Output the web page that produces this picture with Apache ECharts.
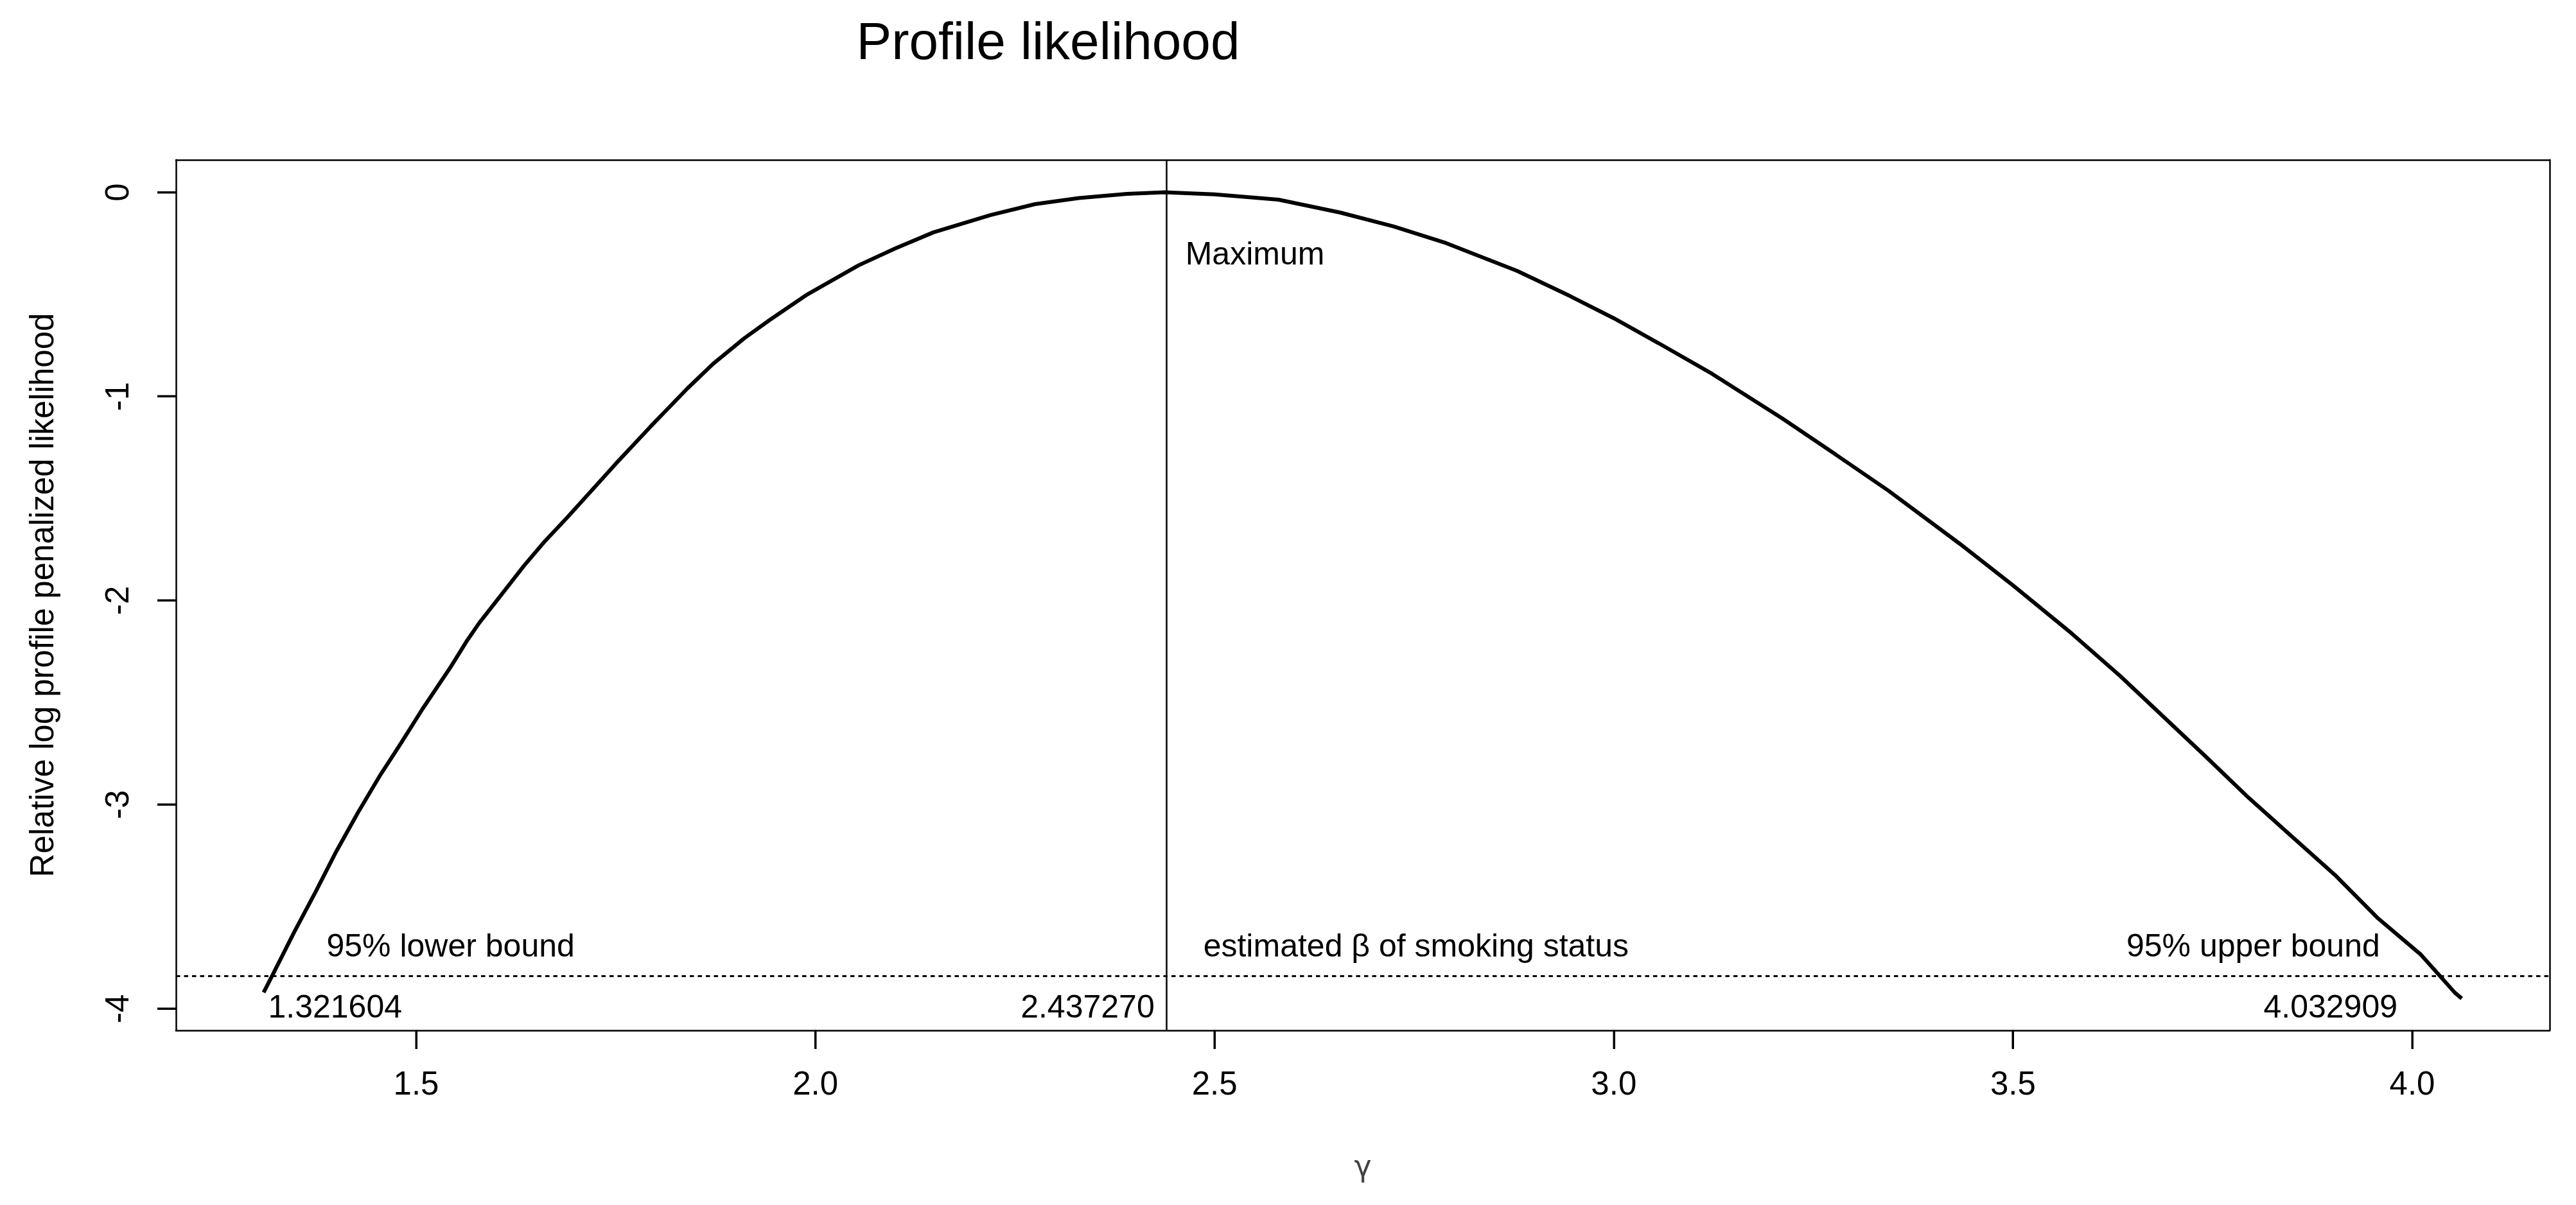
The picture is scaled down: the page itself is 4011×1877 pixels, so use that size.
<!DOCTYPE html>
<html>
<head>
<meta charset="utf-8">
<script src="https://cdn.jsdelivr.net/npm/echarts@6/dist/echarts.min.js"></script>
<style>
html,body{margin:0;padding:0;background:#fff;}
#c{width:4011px;height:1877px;}
</style>
</head>
<body>
<div id="c"></div>
<script>
const gamma = [1.309,1.320,1.347,1.374,1.400,1.427,1.454,1.481,1.508,1.543,1.564,1.579,1.611,1.635,1.660,1.690,1.720,1.750,1.793,1.840,1.872,1.911,1.943,1.990,2.054,2.100,2.148,2.219,2.275,2.330,2.390,2.43727,2.500,2.580,2.657,2.724,2.790,2.879,2.945,3.000,3.056,3.123,3.211,3.278,3.344,3.433,3.500,3.570,3.634,3.688,3.742,3.795,3.849,3.903,3.956,4.010,4.034,4.053,4.062];
const loglik = [-3.920,-3.836,-3.627,-3.428,-3.229,-3.040,-2.862,-2.699,-2.531,-2.327,-2.195,-2.110,-1.950,-1.830,-1.715,-1.590,-1.460,-1.330,-1.150,-0.960,-0.840,-0.715,-0.625,-0.500,-0.358,-0.275,-0.196,-0.112,-0.058,-0.028,-0.008,0,-0.010,-0.036,-0.099,-0.167,-0.249,-0.385,-0.508,-0.617,-0.739,-0.889,-1.108,-1.285,-1.462,-1.721,-1.926,-2.150,-2.369,-2.568,-2.767,-2.966,-3.155,-3.344,-3.553,-3.732,-3.836,-3.920,-3.950];
const xTicks = [1.5, 2.0, 2.5, 3.0, 3.5, 4.0];
const yTicks = [0, -1, -2, -3, -4];
const estimate = 2.437270;
const cutoff = -3.8415;
const annotTexts = ["Maximum", "95% lower bound", "estimated \u03b2 of smoking status", "95% upper bound", "1.321604", "2.437270", "4.032909"];
const annotX = [2.463, 1.3874, 2.4855, 3.6416, 1.3142, 2.4252, 3.9819];
const annotY = [-0.31, -3.70, -3.70, -3.70, -4.0, -4.0, -4.0];
const annotAlign = ["left", "left", "left", "left", "left", "right", "right"];

const X_MIN = 1.1992, X_MAX = 4.1721, Y_MIN = -4.106, Y_MAX = 0.159;
const GRID = {left: 274, right: 41, top: 249, bottom: 272};
const W = 4011, H = 1877;
const TICK_LEN = 29;
const FONT = "Liberation Sans, Arial, sans-serif";
const chart = echarts.init(document.getElementById('c'), null, {renderer: 'canvas'});
const lineData = gamma.map((g, i) => [g, loglik[i]]);
const annotData = annotTexts.map((t, i) => ({
  value: [annotX[i], annotY[i]],
  label: {formatter: t, position: annotAlign[i] === 'left' ? 'right' : 'left'}
}));
const boxLine = {show: true, onZero: false, lineStyle: {color: '#000', width: 2.5}};

chart.setOption({
  animation: false,
  backgroundColor: '#fff',
  grid: Object.assign({show: false}, GRID),
  xAxis: [{
    type: 'value', min: X_MIN, max: X_MAX, position: 'bottom',
    name: '\u03b3', nameLocation: 'middle', nameGap: 192,
    nameTextStyle: {fontFamily: 'DejaVu Sans', fontSize: 46, color: '#444'},
    axisLine: boxLine,
    splitLine: {show: false},
    axisTick: {show: true, inside: false, length: TICK_LEN, lineStyle: {color: '#000', width: 3}, customValues: xTicks},
    axisLabel: {fontFamily: FONT, fontSize: 51, color: '#000', margin: 60, customValues: xTicks, formatter: v => v.toFixed(1)}
  }, {
    type: 'value', min: X_MIN, max: X_MAX, position: 'top',
    axisLine: boxLine, axisTick: {show: false}, axisLabel: {show: false}, splitLine: {show: false}
  }],
  yAxis: [{
    type: 'value', min: Y_MIN, max: Y_MAX, position: 'left',
    name: 'Relative log profile penalized likelihood', nameLocation: 'middle', nameRotate: 90, nameGap: 180,
    nameTextStyle: {fontFamily: FONT, fontSize: 51, color: '#000'},
    axisLine: boxLine,
    splitLine: {show: false},
    axisTick: {show: true, inside: false, length: TICK_LEN, lineStyle: {color: '#000', width: 3}, customValues: yTicks},
    axisLabel: {fontFamily: FONT, fontSize: 51, color: '#000', margin: 63, rotate: 90, customValues: yTicks, formatter: v => String(v)}
  }, {
    type: 'value', min: Y_MIN, max: Y_MAX, position: 'right',
    axisLine: boxLine, axisTick: {show: false}, axisLabel: {show: false}, splitLine: {show: false}
  }],
  series: [
    {
      type: 'line', data: lineData, showSymbol: false, symbol: 'none', silent: true,
      lineStyle: {color: '#000', width: 6}, clip: true,
      markLine: {
        silent: true, symbol: 'none', label: {show: false},
        data: [
          {yAxis: cutoff, lineStyle: {type: [6.5, 6], width: 3, color: '#000'}},
          {xAxis: estimate, lineStyle: {type: 'solid', width: 2.5, color: '#000'}}
        ]
      }
    },
    {
      type: 'scatter', data: annotData, symbolSize: 1, silent: true,
      itemStyle: {color: 'rgba(255,255,255,0)'},
      label: {show: true, distance: 0, verticalAlign: 'middle', fontFamily: FONT, fontSize: 50, color: '#000', textBorderWidth: 0, opacity: 1}
    }
  ]
});

// Tick marks placed through the chart's scales (fallback: the grid's own linear mapping)
function toPixel(v) {
  let p = null;
  try { p = chart.convertToPixel({xAxisIndex: 0, yAxisIndex: 0}, v); } catch (e) { p = null; }
  if (!p || !isFinite(p[0]) || !isFinite(p[1])) {
    const pw = W - GRID.left - GRID.right, ph = H - GRID.top - GRID.bottom;
    p = [GRID.left + (v[0] - X_MIN) / (X_MAX - X_MIN) * pw,
         GRID.top + (Y_MAX - v[1]) / (Y_MAX - Y_MIN) * ph];
  }
  return p;
}
const tickEls = [];
xTicks.forEach(v => {
  const p = toPixel([v, Y_MIN]);
  tickEls.push({type: 'rect', z: 100, silent: true,
    shape: {x: Math.round(p[0]) - 1.5, y: Math.round(p[1]) - 1, width: 3, height: TICK_LEN + 1},
    style: {fill: '#000'}});
});
yTicks.forEach(v => {
  const p = toPixel([X_MIN, v]);
  tickEls.push({type: 'rect', z: 100, silent: true,
    shape: {x: Math.round(p[0]) - TICK_LEN, y: Math.round(p[1]) - 1.5, width: TICK_LEN + 1, height: 3},
    style: {fill: '#000'}});
});
tickEls.push({
  type: 'text', x: 1632, y: 69, silent: true,
  style: {text: 'Profile likelihood', fontFamily: FONT, fontSize: 82, fill: '#000', textAlign: 'center', textVerticalAlign: 'middle'}
});
chart.setOption({graphic: tickEls});
</script>
</body>
</html>
